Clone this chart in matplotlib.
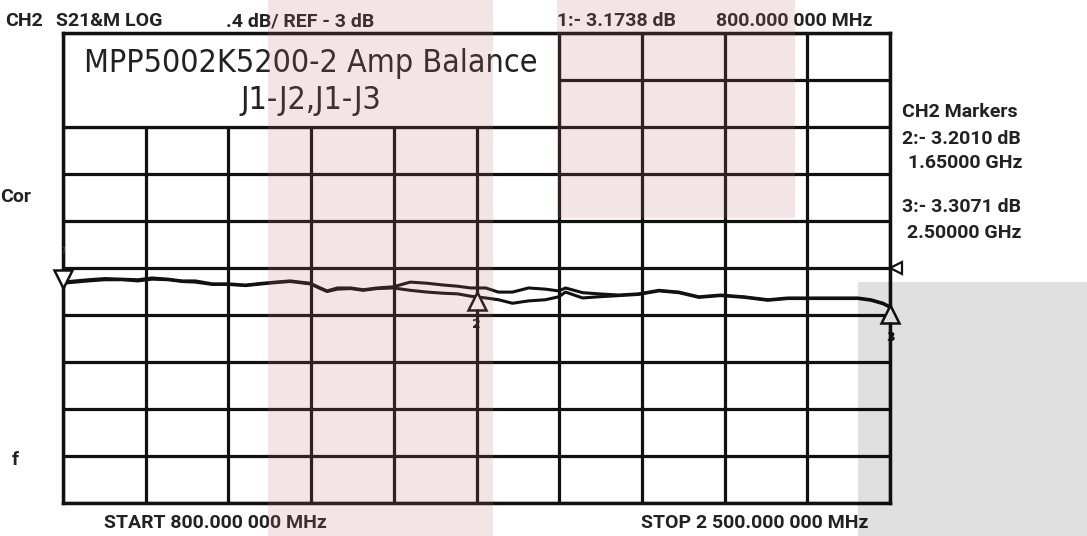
import matplotlib
matplotlib.use('Agg')
import matplotlib.pyplot as plt
import numpy as np
from matplotlib.patches import Rectangle
from matplotlib.transforms import offset_copy

# trace data (MHz, dB)
freq_mhz = [800, 825, 852, 886, 921, 954, 983, 1016, 1045, 1072, 1107, 1140, 1175,
            1210, 1236, 1267, 1308, 1329, 1343, 1364, 1391, 1417, 1446, 1479, 1514,
            1549, 1582, 1611, 1638, 1669, 1695, 1724, 1757, 1792, 1819, 1833, 1868,
            1901, 1942, 1983, 2025, 2066, 2107, 2152, 2200, 2249, 2290, 2337, 2385,
            2434, 2461, 2486, 2500]
j1_j2_db = [-3.12, -3.11, -3.10, -3.09, -3.095, -3.10, -3.085, -3.095, -3.11, -3.11,
            -3.135, -3.135, -3.145, -3.13, -3.12, -3.11, -3.13, -3.17, -3.195, -3.17,
            -3.17, -3.185, -3.17, -3.16, -3.12, -3.13, -3.145, -3.155, -3.17, -3.17,
            -3.205, -3.205, -3.17, -3.18, -3.195, -3.17, -3.21, -3.22, -3.23, -3.22,
            -3.19, -3.205, -3.245, -3.23, -3.245, -3.27, -3.255, -3.255, -3.255,
            -3.255, -3.27, -3.30, -3.33]
j1_j3_db = [-3.13, -3.12, -3.11, -3.10, -3.10, -3.11, -3.095, -3.10, -3.115, -3.12,
            -3.14, -3.14, -3.15, -3.135, -3.125, -3.115, -3.135, -3.175, -3.20, -3.18,
            -3.175, -3.19, -3.175, -3.17, -3.19, -3.205, -3.215, -3.22, -3.24, -3.255,
            -3.27, -3.30, -3.28, -3.27, -3.245, -3.205, -3.255, -3.245, -3.235, -3.225,
            -3.195, -3.21, -3.25, -3.235, -3.25, -3.275, -3.26, -3.26, -3.26, -3.26,
            -3.275, -3.305, -3.335]

marker_freq = [800, 1650, 2500]
marker_db = [-3.1738, -3.2010, -3.3071]

start_mhz, stop_mhz = 800, 2500
ref_db, scale_db = -3, 0.4

W, H = 1087, 536
fig = plt.figure(figsize=(W / 100, H / 100), dpi=100)
fig.patch.set_facecolor('white')
ax = fig.add_axes([63 / W, 1 - 503 / H, (890 - 63) / W, (503 - 33) / H])

ax.set_xlim(start_mhz, stop_mhz)
ax.set_ylim(ref_db - 5 * scale_db, ref_db + 5 * scale_db)
ax.set_xticks(np.linspace(start_mhz, stop_mhz, 11))
ax.set_yticks(np.linspace(ref_db - 5 * scale_db, ref_db + 5 * scale_db, 11))
ax.tick_params(length=0, labelbottom=False, labelleft=False)
ax.set_axisbelow(True)
ax.grid(True, color='#111111', lw=2.3)
for s in ax.spines.values():
    s.set_linewidth(2.5)
    s.set_color('#111111')

# title box covering the upper-left grid cells
ax.add_patch(Rectangle((0, 0.8), 0.6, 0.2, transform=ax.transAxes,
                       facecolor='white', edgecolor='#111111', lw=2.3, zorder=1))
ax.text(0.3, 0.895, 'MPP5002K5200-2 Amp Balance\nJ1-J2,J1-J3', transform=ax.transAxes,
        ha='center', va='center', fontsize=23, color='#222222',
        family='DejaVu Sans', stretch='condensed', linespacing=1.25, zorder=3)

ax.plot(freq_mhz, j1_j2_db, color='#111111', lw=2.2, zorder=3)
ax.plot(freq_mhz, j1_j3_db, color='#111111', lw=2.2, zorder=3)

# markers
up = offset_copy(ax.transData, fig=fig, y=7, units='points')
down = offset_copy(ax.transData, fig=fig, y=-7, units='points')
ax.plot(marker_freq[0], marker_db[0], marker='v', ms=13, mfc='white', mec='#111111',
        mew=1.8, transform=up, clip_on=False, zorder=4)
for f, d, lab in zip(marker_freq[1:], marker_db[1:], ['2', '3']):
    ax.plot(f, d, marker='^', ms=13, mfc='white', mec='#111111', mew=1.8,
            transform=down, clip_on=False, zorder=4)
    ax.plot(f, d, marker='|', ms=9, mec='#111111', mew=1.8, clip_on=False, zorder=4,
            transform=offset_copy(ax.transData, fig=fig, y=-17, units='points'))
    ax.text(f, d, lab, transform=offset_copy(ax.transData, fig=fig, y=-24, units='points'),
            ha='center', va='center', fontsize=9, weight='bold', color='#111111', zorder=4)
ax.text(marker_freq[0], marker_db[0], '1',
        transform=offset_copy(ax.transData, fig=fig, y=28, units='points'),
        ha='center', va='center', fontsize=5, color='#555555')
# reference position marker
ax.plot(stop_mhz, ref_db, marker='<', ms=8, mfc='white', mec='#111111', mew=1.6,
        transform=offset_copy(ax.transData, fig=fig, x=4, units='points'),
        clip_on=False, zorder=4)


def label(x, y, s, size=14):
    fig.text(x / W, 1 - y / H, s, ha='left', va='center', fontsize=size,
             family='Roboto', weight='bold', color='#222222')


label(5, 21, 'CH2')
label(56, 21, 'S21&M LOG')
label(226, 21, '.4 dB/ REF - 3 dB')
label(557, 21, '1:- 3.1738 dB')
label(716, 21, '800.000 000 MHz')
label(902, 112, 'CH2 Markers')
label(902, 139, '2:- 3.2010 dB')
label(908, 163, '1.65000 GHz')
label(902, 207, '3:- 3.3071 dB')
label(907, 233, '2.50000 GHz')
label(0, 197, 'Cor')
label(12, 460, 'f')
label(104, 523, 'START 800.000 000 MHz')
label(641, 523, 'STOP 2 500.000 000 MHz')

# scan tint overlays
for x0, y0, x1, y1, c, a in [(268, 0, 493, 536, '#c07070', 0.18),
                             (557, 0, 795, 218, '#c07070', 0.18),
                             (858, 282, 1087, 536, '#000000', 0.12)]:
    fig.add_artist(Rectangle((x0 / W, 1 - y1 / H), (x1 - x0) / W, (y1 - y0) / H,
                             transform=fig.transFigure, facecolor=c, alpha=a,
                             lw=0, zorder=10))

fig.savefig('out.png', dpi=100)
